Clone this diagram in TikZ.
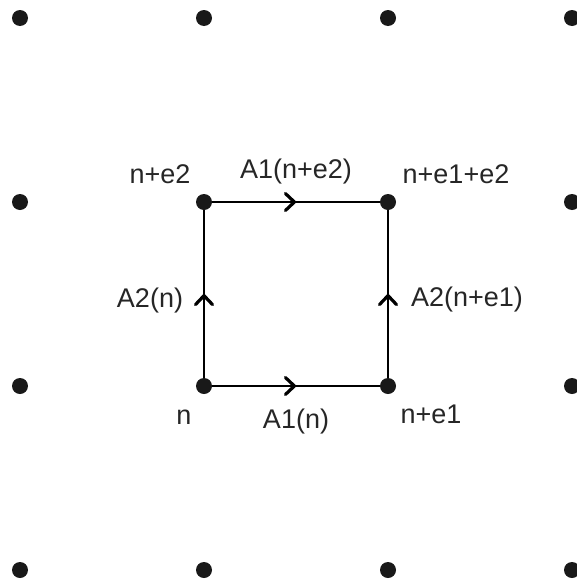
\documentclass[tikz,border=0pt]{standalone}
\usepackage{fontspec}
\setmainfont{Liberation Sans}
\usetikzlibrary{arrows.meta,decorations.markings}
\begin{document}
\begin{tikzpicture}[x=1pt,y=-1pt,
  dot/.style={circle,fill=black!90,inner sep=0pt,minimum size=16pt},
  lbl/.style={anchor=base,inner sep=0pt,text=black!85,font=\fontsize{27}{32}\selectfont},
  edge/.style={line width=2.2pt,postaction={decorate},
    decoration={markings,mark=at position 0.5 with {\arrow[line width=3.2pt]{Straight Barb[length=9pt,width=17pt,round]}}}}]
\useasboundingbox (0,0) rectangle (576,581);
\foreach \i/\x in {0/20,1/204,2/388,3/572}{
  \foreach \j/\y in {0/570,1/386,2/202,3/18}{
    \node[dot] (p\i\j) at (\x,\y) {};
  }
}
\draw[edge] (p11) -- (p21);
\draw[edge] (p12) -- (p22);
\draw[edge] (p11) -- (p12);
\draw[edge] (p21) -- (p22);
\node[lbl] (l1) at (160,183) {n+e2};
\node[lbl] (l2) at (296,178) {A1(n+e2)};
\node[lbl] (l3) at (456,183) {n+e1+e2};
\node[lbl] (l4) at (150,307) {A2(n)};
\node[lbl] (l5) at (467,306) {A2(n+e1)};
\node[lbl] (l6) at (184,424) {n};
\node[lbl] (l7) at (296,428) {A1(n)};
\node[lbl] (l8) at (431,423) {n+e1};
\end{tikzpicture}
\end{document}
